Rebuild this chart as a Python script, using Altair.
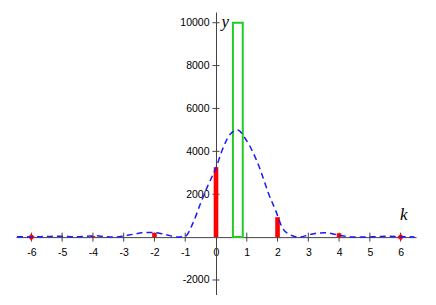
import altair as alt
import pandas as pd

# ---- data ----
curve_k = [-6.47, -6.0, -5.5, -5.0, -4.6, -4.2, -3.9, -3.6, -3.3, -3.0, -2.7, -2.4, -2.1, -1.8,
           -1.5, -1.25, -1.0, -0.75, -0.5, -0.25, 0.0, 0.2, 0.45, 0.7, 0.95, 1.2, 1.45, 1.7,
           1.95, 2.15, 2.4, 2.7, 3.0, 3.3, 3.55, 3.8, 4.1, 4.4, 4.8, 5.2, 5.65, 6.0, 6.45]
curve_v = [20, 10, 30, 40, 10, 40, 60, 20, 0, 50, 130, 200, 220, 170,
           70, 0, 40, 650, 1580, 2450, 3230, 4050, 4780, 5000, 4600, 3960, 3100, 2060,
           1200, 450, 120, 0, 100, 190, 200, 150, 60, 10, 0, 20, 40, 20, 10]

bar_k = [-4, -2, 0, 2, 4]
bar_v = [50, 200, 3260, 930, 180]

dot_k = [-6, 6]
dot_v = [0, 0]

box_k0 = [0.55]
box_k1 = [0.87]
box_v = [10000]

x_tick_vals = [-6, -5, -4, -3, -2, -1, 0, 1, 2, 3, 4, 5, 6]
y_tick_vals = [-2000, 2000, 4000, 6000, 8000, 10000]

label_k = [6.1, 0.18]
label_v = [780, 9800]
label_txt = ["k", "y"]

X_DOMAIN = [-6.5, 6.5]
Y_DOMAIN = [-2700, 10500]
W, H = 400, 283

BAR_HALF = 0.075
TICK_HALF_Y = 210   # data units for x-axis ticks
TICK_HALF_X = 0.115  # data units for y-axis ticks

# axis placement through the origin
x_off = -(H * (0 - Y_DOMAIN[0]) / (Y_DOMAIN[1] - Y_DOMAIN[0]))
y_off = -(W * (0 - X_DOMAIN[0]) / (X_DOMAIN[1] - X_DOMAIN[0]))

xs = alt.Scale(domain=X_DOMAIN, nice=False, zero=False)
ys = alt.Scale(domain=Y_DOMAIN, nice=False, zero=False)
xaxis = alt.Axis(title=None, values=x_tick_vals, offset=x_off, ticks=False, grid=False,
                 labelPadding=10, domainColor="#444", labelFont="Liberation Sans",
                 labelFontSize=10.5, labelColor="#000", labelExpr="'' + datum.value")
yaxis = alt.Axis(title=None, values=y_tick_vals, offset=y_off, ticks=False, grid=False,
                 labelPadding=7, domainColor="#444", labelFont="Liberation Sans",
                 labelFontSize=10.5, labelColor="#000", labelExpr="'' + datum.value")

def X(f):
    return alt.X(f, type="quantitative", scale=xs, axis=xaxis)

def Y(f):
    return alt.Y(f, type="quantitative", scale=ys, axis=yaxis)

curve_df = pd.DataFrame({"k": curve_k, "v": curve_v})
bar_df = pd.DataFrame({"k": bar_k, "v": bar_v})
dot_df = pd.DataFrame({"k": dot_k, "v": dot_v})
box_df = pd.DataFrame({"k0": box_k0, "k1": box_k1, "v": box_v})
xt_df = pd.DataFrame({"k": [t for t in x_tick_vals if t != 0]})
yt_df = pd.DataFrame({"v": y_tick_vals})
lab_df = pd.DataFrame({"k": label_k, "v": label_v, "t": label_txt})

xticks = alt.Chart(xt_df).transform_calculate(
    lo=f"{-TICK_HALF_Y}", hi=f"{TICK_HALF_Y}"
).mark_rule(color="#444", strokeWidth=1).encode(x=X("k"), y=Y("lo:Q"), y2="hi:Q")

yticks = alt.Chart(yt_df).transform_calculate(
    lo=f"{-TICK_HALF_X}", hi=f"{TICK_HALF_X}"
).mark_rule(color="#444", strokeWidth=1).encode(x=X("lo:Q"), x2="hi:Q", y=Y("v"))

bars = alt.Chart(bar_df).transform_calculate(
    k0=f"datum.k - {BAR_HALF}", k1=f"datum.k + {BAR_HALF}", z="0"
).mark_rect(color="#ff0000").encode(x=X("k0:Q"), x2="k1:Q", y=Y("z:Q"), y2="v:Q")

dots = alt.Chart(dot_df).mark_point(shape="diamond", filled=True, color="#ff0000",
                                    size=45, opacity=1).encode(x=X("k"), y=Y("v"))

box = alt.Chart(box_df).transform_calculate(z="0").mark_rect(
    fillOpacity=0, stroke="#22cc22", strokeWidth=2
).encode(x=X("k0:Q"), x2="k1:Q", y=Y("z:Q"), y2="v:Q")

curve = alt.Chart(curve_df).mark_line(
    color="#1a1aff", strokeDash=[6, 4], strokeWidth=1.5, interpolate="monotone"
).encode(x=X("k"), y=Y("v"))

labels_k = alt.Chart(lab_df).transform_filter("datum.t == 'k'").mark_text(
    font="Liberation Serif", fontStyle="italic", fontSize=17, align="center",
    baseline="alphabetic", color="#000"
).encode(x=X("k"), y=Y("v"), text="t:N")

labels_y = alt.Chart(lab_df).transform_filter("datum.t == 'y'").mark_text(
    font="Liberation Serif", fontStyle="italic", fontSize=17, align="left",
    baseline="alphabetic", color="#000"
).encode(x=X("k"), y=Y("v"), text="t:N")

chart = alt.layer(xticks, yticks, bars, dots, box, curve, labels_k, labels_y).properties(
    width=W, height=H,
    background="white",
    padding={"left": 8, "top": 4, "right": 8, "bottom": 0},
    autosize=alt.AutoSizeParams(type="none"),
).configure_view(stroke=None, strokeWidth=0)

chart.save("out.html", embed_options={"renderer": "svg", "actions": False})
